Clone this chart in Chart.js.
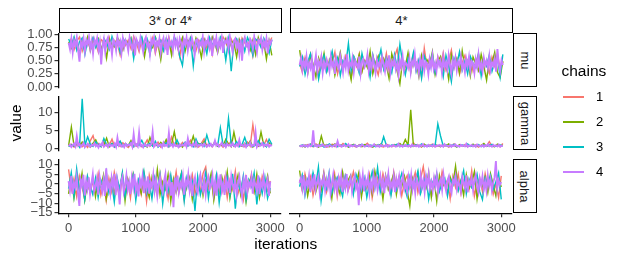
<!DOCTYPE html>
<html>
<head>
<meta charset="utf-8">
<script src="https://cdn.jsdelivr.net/npm/chart.js@4"></script>
<style>
  body { margin: 0; background: #fff; }
  #wrap { position: relative; width: 623px; height: 260px; overflow: hidden; background: #fff;
          font-family: "Liberation Sans", Arial, sans-serif; }
  canvas { position: absolute; }
  .strip { position: absolute; box-sizing: border-box; border: 1.3px solid #000; background: #fff;
           color: #1a1a1a; font-size: 13px; display: flex; align-items: center; justify-content: center; }
  .strip.side span { transform: rotate(90deg); white-space: nowrap; }
  .txt { position: absolute; white-space: nowrap; color: #000; }
</style>
</head>
<body>
<div id="wrap"></div>
<script>
const chains = ['1', '2', '3', '4'];
const chainColors = ['#F8766D', '#7CAE00', '#00BFC4', '#C77CFF'];
const columns = ['3* or 4*', '4*'];
const params = ['mu', 'gamma', 'alpha'];
const iterTicks = [0, 1000, 2000, 3000];
const muTicks = [0, 0.25, 0.5, 0.75, 1];
const gammaTicks = [0, 5, 10];
const alphaTicks = [-15, -10, -5, 0, 5, 10];

// traces, thinned: chains 1-3 every 40 iterations, chain 4 every 20 (0..3000)
// mu, "3* or 4*"
const muA1 = [0.80,0.92,0.71,0.87,0.95,0.68,0.84,0.89,0.74,0.93,0.81,0.66,0.90,0.85,0.77,0.94,0.70,0.88,0.82,0.61,
  0.92,0.79,0.89,0.73,0.96,0.84,0.67,0.91,0.80,0.87,0.75,0.93,0.64,0.86,0.90,0.78,0.83,0.95,0.71,0.88,
  0.82,0.57,0.91,0.85,0.76,0.94,0.80,0.69,0.89,0.84,0.92,0.74,0.87,0.62,0.90,0.83,0.78,0.95,0.86,0.72,
  0.91,0.80,0.88,0.67,0.93,0.84,0.77,0.90,0.59,0.86,0.92,0.81,0.75,0.89,0.83,0.94];
const muA2 = [0.86,0.74,0.93,0.81,0.63,0.90,0.78,0.95,0.69,0.87,0.83,0.92,0.72,0.88,0.55,0.91,0.80,0.76,0.94,0.85,
  0.70,0.89,0.82,0.93,0.66,0.86,0.79,0.92,0.58,0.88,0.84,0.75,0.95,0.81,0.52,0.90,0.73,0.87,0.60,0.92,
  0.83,0.77,0.94,0.68,0.89,0.85,0.71,0.93,0.80,0.56,0.91,0.86,0.74,0.95,0.82,0.65,0.88,0.79,0.92,0.70,
  0.87,0.84,0.57,0.90,0.76,0.93,0.81,0.69,0.89,0.62,0.94,0.78,0.86,0.53,0.88,0.60];
const muA3 = [0.91,0.79,0.95,0.70,0.86,0.93,0.62,0.88,0.82,0.94,0.75,0.89,0.57,0.92,0.84,0.71,0.96,0.80,0.87,0.66,
  0.93,0.85,0.78,0.91,0.54,0.88,0.82,0.95,0.73,0.90,0.61,0.86,0.94,0.79,0.88,0.69,0.92,0.83,0.76,0.95,
  0.86,0.58,0.41,0.89,0.81,0.93,0.40,0.87,0.74,0.91,0.84,0.63,0.94,0.80,0.88,0.72,0.95,0.85,0.51,0.90,
  0.30,0.86,0.92,0.77,0.89,0.68,0.94,0.83,0.60,0.91,0.87,0.75,0.93,0.82,0.64,0.90];
const muA4 = [0.84,0.72,0.91,0.66,0.88,0.79,0.94,0.70,0.48,0.86,0.77,0.92,0.68,0.89,0.81,0.95,0.73,0.87,0.64,0.90,
  0.82,0.93,0.71,0.85,0.43,0.78,0.91,0.67,0.88,0.94,0.75,0.83,0.62,0.90,0.86,0.70,0.95,0.79,0.87,0.65,
  0.92,0.76,0.89,0.83,0.69,0.94,0.81,0.72,0.88,0.60,0.91,0.85,0.74,0.93,0.80,0.67,0.89,0.95,0.77,0.84,
  0.63,0.90,0.82,0.94,0.71,0.87,0.79,0.92,0.66,0.85,0.93,0.74,0.88,0.61,0.91,0.80,0.86,0.69,0.95,0.78,
  0.89,0.73,0.92,0.84,0.64,0.90,0.81,0.94,0.70,0.87,0.76,0.93,0.83,0.62,0.89,0.91,0.72,0.85,0.79,0.95,
  0.68,0.88,0.82,0.92,0.74,0.86,0.59,0.90,0.80,0.94,0.71,0.87,0.77,0.93,0.65,0.89,0.84,0.91,0.73,0.96,
  0.81,0.67,0.88,0.92,0.75,0.85,0.63,0.90,0.50,0.86,0.94,0.78,0.83,0.69,0.91,0.87,0.72,0.95,0.80,0.66,
  0.89,0.84,0.93,0.71,0.87,0.76,0.92,0.64,0.88,0.82,0.90];
// mu, "4*"
const muB1 = [0.45,0.28,0.56,0.38,0.62,0.33,0.49,0.21,0.58,0.41,0.30,0.53,0.44,0.66,0.25,0.47,0.36,0.59,0.42,0.18,
  0.51,0.39,0.63,0.29,0.46,0.55,0.34,0.60,0.40,0.23,0.52,0.37,0.64,0.31,0.48,0.57,0.72,0.35,0.45,0.27,
  0.54,0.43,0.61,0.32,0.50,0.20,0.74,0.38,0.56,0.44,0.29,0.58,0.41,0.65,0.33,0.49,0.70,0.36,0.53,0.24,
  0.46,0.60,0.39,0.55,0.30,0.47,0.62,0.35,0.51,0.42,0.26,0.57,0.40,0.63,0.34,0.48];
const muB2 = [0.70,0.35,0.52,0.27,0.61,0.43,0.19,0.55,0.38,0.64,0.31,0.48,0.58,0.22,0.45,0.66,0.34,0.53,0.40,0.14,
  0.57,0.42,0.62,0.29,0.50,0.37,0.68,0.25,0.46,0.59,0.33,0.54,0.41,0.16,0.63,0.44,0.30,0.06,0.51,0.39,
  0.65,0.28,0.56,0.47,0.20,0.60,0.36,0.52,0.43,0.67,0.24,0.49,0.58,0.32,0.45,0.15,0.61,0.40,0.54,0.27,
  0.69,0.37,0.50,0.21,0.57,0.44,0.31,0.62,0.39,0.13,0.53,0.46,0.66,0.28,0.18,0.49];
const muB3 = [0.39,0.57,0.24,0.48,0.63,0.33,0.52,0.15,0.44,0.60,0.29,0.47,0.68,0.37,0.55,0.22,0.50,0.42,0.83,0.31,
  0.58,0.45,0.26,0.64,0.40,0.53,0.19,0.61,0.36,0.49,0.71,0.34,0.56,0.43,0.27,0.62,0.38,0.81,0.46,0.23,
  0.54,0.41,0.66,0.30,0.51,0.17,0.59,0.44,0.35,0.63,0.28,0.52,0.47,0.20,0.60,0.39,0.10,0.55,0.42,0.67,
  0.32,0.49,0.25,0.58,0.45,0.37,0.64,0.21,0.53,0.40,0.61,0.30,0.48,0.56,0.19,0.62];
const muB4 = [0.42,0.55,0.33,0.50,0.38,0.58,0.29,0.46,0.36,0.53,0.12,0.44,0.60,0.31,0.49,0.40,0.56,0.27,0.47,0.35,
  0.52,0.43,0.30,0.57,0.39,0.48,0.25,0.54,0.41,0.34,0.59,0.45,0.28,0.51,0.37,0.62,0.32,0.46,0.40,0.55,
  0.29,0.50,0.43,0.36,0.58,0.26,0.47,0.53,0.38,0.44,0.61,0.31,0.49,0.35,0.56,0.42,0.27,0.52,0.39,0.46,
  0.33,0.57,0.44,0.30,0.50,0.37,0.60,0.28,0.48,0.41,0.54,0.34,0.45,0.23,0.51,0.39,0.58,0.32,0.47,0.43,
  0.36,0.55,0.29,0.49,0.42,0.62,0.35,0.46,0.27,0.53,0.40,0.57,0.31,0.48,0.44,0.25,0.52,0.38,0.59,0.34,
  0.45,0.30,0.54,0.41,0.50,0.28,0.56,0.37,0.47,0.33,0.60,0.43,0.26,0.51,0.39,0.55,0.32,0.48,0.42,0.58,
  0.35,0.46,0.29,0.53,0.40,0.57,0.31,0.49,0.44,0.27,0.52,0.38,0.61,0.34,0.45,0.30,0.55,0.41,0.50,0.36,
  0.58,0.33,0.47,0.40,0.54,0.29,0.72,0.44,0.31,0.51,0.42];
// gamma, "3* or 4*"
const gamA1 = [0.6,1.2,0.4,0.9,1.7,0.5,1.1,0.3,2.2,3.6,0.8,1.4,0.5,1.9,0.7,1.0,2.6,0.4,1.3,0.6,
  1.6,0.9,0.3,1.2,2.1,0.7,1.5,0.5,1.0,2.4,0.6,1.3,0.8,1.8,0.4,1.1,2.0,0.7,3.2,0.9,
  1.4,0.5,1.7,0.8,1.2,2.3,0.6,1.0,0.4,1.5,2.7,0.8,1.3,0.5,1.9,0.7,1.1,0.4,1.6,0.9,
  2.2,0.6,1.4,0.8,1.0,0.5,1.8,0.7,6.7,1.2,0.6,1.5,0.9,2.5,0.7,1.1];
const gamA2 = [0.9,6.0,0.7,1.3,0.5,1.8,0.8,1.1,0.4,1.5,2.4,0.6,1.2,0.9,2.9,0.5,1.4,0.7,1.0,1.9,
  0.6,1.3,0.8,2.2,0.5,1.1,1.6,0.7,1.0,0.4,3.1,0.8,1.2,0.6,1.7,0.9,2.5,0.5,1.3,4.7,
  0.7,1.1,0.4,1.6,0.8,1.0,3.5,0.6,1.4,0.9,2.0,0.5,1.2,0.7,1.8,0.6,1.0,0.8,2.6,1.3,
  0.5,4.6,0.9,1.1,0.6,1.5,0.8,2.1,0.4,1.2,0.7,4.6,1.0,0.6,1.6,0.9];
const gamA3 = [0.5,1.0,0.7,1.6,0.4,13.9,0.8,3.3,1.2,0.6,1.9,0.9,0.5,2.8,1.1,0.7,1.4,0.4,1.0,2.1,
  0.6,1.3,0.8,1.7,0.5,1.2,0.9,2.3,0.6,1.0,1.5,0.7,2.0,0.4,1.1,0.8,1.6,0.5,1.3,0.9,
  2.4,0.6,1.0,1.8,0.7,1.2,0.5,2.7,0.9,1.4,0.6,3.8,1.1,0.7,1.5,0.8,5.8,1.0,0.6,8.4,
  1.3,0.7,1.9,0.5,1.1,3.1,0.8,1.4,0.6,1.0,2.2,0.9,1.6,0.5,2.6,1.2];
const gamA4 = [0.7,1.1,0.4,0.9,1.4,0.6,3.4,0.8,1.2,0.5,1.0,1.6,0.4,0.9,1.3,0.7,0.5,1.1,0.8,1.5,
  0.6,1.0,0.3,1.2,0.8,1.7,0.5,0.9,1.1,0.4,1.3,0.7,1.0,0.6,1.4,0.5,3.0,0.8,1.2,0.6,
  1.0,0.4,1.3,0.7,1.1,0.9,1.5,0.5,4.0,0.8,1.2,0.6,4.4,0.7,1.0,0.4,1.3,0.9,0.6,1.1,
  0.8,1.2,4.6,0.5,1.0,1.4,0.6,0.9,1.2,0.4,1.6,0.7,1.0,0.6,4.3,0.8,1.1,0.5,1.3,0.7,
  0.9,0.4,1.2,0.7,1.0,0.8,1.5,0.5,2.8,0.9,1.1,0.6,1.3,0.7,1.8,0.5,1.0,0.8,1.2,0.6,
  1.4,0.9,0.5,1.1,0.7,1.3,0.6,1.0,2.2,0.8,1.2,0.5,0.9,1.6,0.7,1.1,0.4,1.3,0.8,1.0,
  0.6,1.5,0.9,0.5,1.2,0.7,2.4,0.8,1.0,0.6,1.3,0.4,1.1,0.9,1.7,0.6,1.0,0.8,4.4,0.5,
  1.2,0.7,0.9,1.5,0.6,1.1,0.8,1.3,0.5,1.0,0.7];
// gamma, "4*"
const gamB1 = [0.6,0.9,0.4,1.1,0.7,0.5,1.3,0.8,0.6,1.0,0.4,0.7,1.2,0.5,0.9,0.6,1.4,0.8,0.5,1.0,
  0.7,0.4,1.1,0.6,0.9,1.5,0.5,0.8,0.7,1.0,0.6,0.4,1.2,0.8,0.5,0.9,0.7,1.3,0.6,0.8,
  1.0,0.5,1.6,0.7,0.9,0.4,1.1,0.6,0.8,1.2,0.5,0.7,0.9,0.6,1.0,0.4,0.8,1.3,0.6,0.9,
  0.7,1.1,0.5,0.8,0.6,1.0,0.4,0.9,1.2,0.7,1.9,0.6,0.8,1.0,0.5,1.4];
const gamB2 = [0.8,0.5,1.0,0.7,1.2,0.6,0.9,0.4,3.5,0.7,1.1,0.5,0.8,1.3,0.6,0.9,0.7,1.0,0.4,0.8,
  1.2,0.6,0.9,0.5,1.1,0.7,0.8,0.4,1.0,0.6,1.3,0.7,0.9,0.5,0.8,1.1,0.6,1.4,0.7,2.5,
  0.9,10.8,0.6,1.0,0.8,0.5,1.2,0.7,0.9,0.6,1.1,0.8,0.5,1.0,0.7,1.3,0.6,0.9,0.4,1.1,
  0.8,0.6,1.0,0.7,1.2,0.5,0.9,0.8,1.4,0.6,1.0,0.7,0.5,1.2,0.8,0.9];
const gamB3 = [0.7,1.0,0.5,0.8,1.2,0.6,0.9,0.7,1.1,0.4,0.8,1.3,0.6,0.9,0.5,1.0,0.7,1.4,0.6,0.8,
  1.0,0.5,0.9,1.2,0.7,0.6,1.0,0.8,0.5,1.1,0.7,3.3,0.9,0.6,1.0,0.8,1.2,0.5,0.9,0.7,
  1.1,0.6,0.8,1.0,0.7,1.3,0.5,0.9,0.6,1.1,0.8,6.9,3.5,0.7,1.0,0.6,0.9,1.2,0.5,0.8,
  1.0,0.7,1.3,0.6,0.9,0.8,1.1,0.5,1.0,0.7,0.9,1.2,0.6,0.8,1.0,0.7];
const gamB4 = [0.5,0.8,0.6,1.0,0.7,0.9,0.5,1.1,0.6,0.8,5.1,0.7,0.9,0.5,1.0,0.6,0.8,1.2,0.7,0.5,
  0.9,0.6,1.0,0.7,0.5,0.8,1.1,0.6,2.0,0.7,0.9,0.5,0.8,1.0,0.6,0.7,1.2,0.5,0.9,0.6,
  0.8,1.0,0.5,0.7,0.9,0.6,1.1,0.8,0.5,0.7,1.0,0.6,0.9,0.5,0.8,1.2,0.7,0.6,0.9,0.5,
  1.0,0.7,0.8,0.6,1.1,0.5,0.9,0.7,0.6,1.0,0.8,0.5,0.7,1.3,0.6,0.9,0.5,0.8,1.0,0.7,
  0.6,0.9,0.5,1.1,0.7,0.8,0.6,1.0,0.5,0.9,0.7,1.2,0.6,0.8,0.5,1.0,0.7,0.9,0.6,1.1,
  0.5,0.8,0.7,1.0,0.6,0.9,0.5,1.2,0.7,0.8,0.6,1.0,0.5,0.9,0.7,1.1,0.6,0.8,0.5,1.0,
  0.7,0.9,0.6,1.3,0.5,0.8,0.7,1.0,0.6,0.9,0.5,1.1,0.7,0.8,0.6,1.0,0.5,0.9,0.7,1.2,
  0.6,0.8,0.5,1.0,0.7,0.9,0.6,1.1,0.5,0.8,0.7];
// alpha, "3* or 4*"
const alpA1 = [7.6,-3.2,2.8,-6.4,4.1,-1.5,-7.9,3.5,-4.6,1.2,-2.7,5.3,-5.8,0.4,-8.6,2.9,-3.9,6.1,-1.1,-6.7,
  3.8,-4.2,1.7,-7.3,5.0,-2.3,0.8,-5.5,3.2,-9.1,4.6,-1.8,2.2,-6.0,5.7,-3.4,0.9,-7.6,3.9,-2.0,
  6.3,-4.8,1.5,-8.2,2.6,-1.3,4.8,-5.2,0.6,-3.7,5.5,8.8,-2.5,2.0,-6.9,4.3,-0.7,-4.4,3.0,-7.1,
  1.9,-2.9,6.6,-5.0,0.3,-8.0,3.6,-1.9,5.2,-4.1,2.4,-6.3,4.0,-0.9,-3.5,1.6];
const alpA2 = [-5.1,3.9,-7.4,1.4,-2.6,5.6,-8.3,0.7,-4.0,3.1,-6.5,2.3,-1.2,4.7,-7.7,-0.5,3.6,-5.3,1.9,-3.1,
  5.2,-8.8,2.7,-2.2,4.4,-6.1,0.2,-4.7,6.0,-1.6,-7.0,3.3,-3.6,7.6,-5.7,1.1,-2.8,4.9,-9.0,2.5,
  -4.3,0.6,5.8,-6.6,-1.0,3.4,-7.9,1.8,-3.3,4.5,-5.9,2.1,-0.8,5.4,-8.4,0.9,-4.5,3.7,-2.4,6.4,
  -7.2,1.3,-1.7,4.6,-5.5,2.9,-9.3,0.5,3.8,-3.8,5.1,-6.8,1.0,-2.1,4.2,-4.9];
const alpA3 = [-2.4,5.8,-6.2,7.8,-3.6,1.6,-8.1,4.2,-0.9,-5.4,3.0,-7.0,2.1,-1.9,6.2,-4.6,0.5,-9.4,3.7,-2.8,
  5.9,-6.4,1.2,-3.3,4.5,-8.5,2.4,-1.0,6.5,-5.1,0.8,-7.6,3.5,-2.2,5.0,-10.2,1.7,-4.0,4.6,-6.8,
  2.6,-0.3,5.6,-8.9,3.1,-3.1,1.4,-14.0,4.0,-5.6,0.1,6.1,-7.3,2.8,-2.5,4.8,-9.8,1.5,-4.2,3.3,
  -6.0,5.3,-12.8,0.4,-3.8,4.4,-8.0,2.2,-1.4,5.7,-10.6,1.9,-5.0,3.6,-7.4,-2.0];
const alpA4 = [1.5,-3.2,4.2,-5.1,0.6,-1.9,3.7,-4.4,-11.4,2.1,-0.8,4.8,-6.0,1.3,-2.6,3.5,-4.9,0.2,5.0,-3.6,
  -1.1,2.8,-5.5,4.0,-0.4,-3.8,1.9,-6.2,8.1,-2.2,0.7,-4.6,3.1,-1.5,5.2,-5.8,2.4,-3.0,-10.6,0.9,
  3.6,-4.1,-0.6,4.5,-2.8,1.1,-5.3,3.0,-1.7,5.3,-3.5,0.4,-6.4,2.6,-0.9,4.1,-4.7,1.7,-2.4,3.9,
  -5.0,0.8,-1.3,4.6,-3.3,2.2,-5.9,0.0,3.4,-2.0,-4.5,1.6,5.1,-3.9,-0.2,2.9,-6.1,1.0,-12.0,3.2,
  -2.5,4.4,-4.0,0.5,-1.6,3.8,-5.6,1.8,-0.7,4.9,-3.1,2.0,-6.3,0.3,3.3,-2.9,-4.8,1.4,4.7,-1.0,
  -3.7,2.5,-5.2,0.9,3.6,-2.3,-0.5,4.3,-4.3,1.2,-6.0,2.7,-1.4,5.0,-3.4,0.1,-5.7,3.0,-2.1,1.5,
  -4.6,4.0,-0.3,-3.0,2.3,-5.4,0.6,3.9,-1.8,-6.6,1.9,-2.7,4.6,-4.2,0.8,-1.2,3.4,-5.0,2.2,-0.6,
  -3.6,4.5,-5.3,1.1,-1.5,3.7,-4.1,0.4,2.8,-6.2,1.3];
// alpha, "4*"
const alpB1 = [2.1,-3.4,5.2,-1.6,3.7,-5.9,0.8,4.5,-2.8,6.0,-4.1,1.3,-0.5,5.6,-6.5,2.9,-2.0,4.1,-3.7,0.2,
  6.3,-1.1,3.0,-5.0,1.7,-2.5,4.8,-7.2,0.9,3.4,-3.0,5.4,-0.8,2.3,-4.7,6.1,-1.9,3.8,-6.0,1.1,
  4.4,-2.3,0.5,5.9,-4.4,2.6,9.0,-1.4,3.3,-5.6,0.7,4.7,-3.2,6.5,-0.2,2.0,-7.6,3.9,-1.7,5.1,
  -4.9,1.6,4.0,-2.6,6.8,-6.3,0.4,3.1,-3.9,5.5,-1.2,2.7,-5.3,0.1,-7.0,4.2];
const alpB2 = [7.0,-2.5,3.3,-6.1,1.4,4.9,-4.3,0.6,-3.5,5.5,-1.0,2.4,-7.4,3.9,-0.3,-5.2,6.2,-2.1,1.9,4.6,
  -3.9,0.3,5.8,-6.7,2.2,-1.5,3.6,-4.8,6.6,-0.7,1.5,-8.0,4.3,-2.9,0.9,5.2,-5.5,2.8,-1.3,4.0,
  -3.3,-11.4,3.1,-0.6,5.7,-4.0,1.2,-2.2,6.0,-6.9,2.5,-9.0,4.4,-1.8,0.8,-4.6,3.7,-0.1,9.3,-3.0,
  1.8,-5.8,4.8,-2.4,0.4,6.4,-7.7,2.1,-1.1,3.4,-4.5,5.3,-0.4,-6.2,2.9,-1.6];
const alpB3 = [-1.4,4.6,-6.0,2.2,-3.0,5.9,-0.8,8.8,-8.8,1.6,-2.4,6.1,-4.6,0.5,3.5,-1.7,-6.4,4.2,-0.1,2.7,
  -5.4,5.0,1.0,-3.6,3.1,-7.0,0.2,6.4,-2.1,8.5,-4.2,1.8,-0.9,4.9,-5.8,2.4,-3.3,0.7,5.6,-1.5,
  -6.6,3.6,-2.7,1.3,6.7,-4.9,0.0,4.1,-7.8,2.0,-1.0,5.5,-3.8,0.6,3.0,-6.2,2.3,-0.5,4.7,-3.4,
  1.5,6.9,-5.1,2.6,-1.9,0.3,5.1,-4.0,-8.1,3.2,-0.6,4.4,-2.8,1.2,5.8,-8.0];
const alpB4 = [0.6,3.2,-2.1,4.6,-3.4,1.8,-0.7,4.1,-4.0,2.5,-1.3,5.0,-2.8,0.9,3.7,-4.3,1.5,-0.2,4.4,-3.1,
  2.2,-1.6,3.9,-4.6,0.4,4.8,-2.5,1.2,-3.7,3.0,-0.5,4.3,-4.1,2.0,-1.9,5.2,-2.9,0.7,3.5,-3.6,
  1.6,4.0,-2.2,0.1,-11.0,3.3,-1.0,4.7,-3.9,2.4,-0.8,3.8,-4.4,1.1,-2.6,4.5,-1.4,2.8,-3.3,0.5,
  4.2,-2.0,1.9,-4.7,3.1,-0.4,5.1,-3.0,0.8,-1.8,4.0,-4.2,2.6,-0.9,3.6,-3.5,1.3,4.9,-2.4,0.2,
  -3.8,3.4,-1.1,4.6,-2.7,1.7,-4.5,2.9,0.0,-3.2,4.4,-1.5,2.1,-4.0,3.7,-0.6,5.0,-2.3,1.0,-3.4,
  3.0,-1.2,4.3,-4.2,0.9,2.7,-2.9,4.8,-0.3,-3.6,1.8,3.9,-1.9,-4.6,2.3,0.4,4.1,-2.6,1.4,-0.8,
  -3.9,3.6,0.6,-2.2,4.5,-4.3,1.6,-0.1,3.2,-3.0,2.0,4.7,-1.7,-4.4,2.8,-0.6,3.9,-2.8,1.2,-3.5,
  4.2,-1.0,2.5,-3.2,0.7,3.4,11.9,-2.4,1.9,-0.4,1.0];

const traces = {
  mu:    [[muA1, muA2, muA3, muA4], [muB1, muB2, muB3, muB4]],
  gamma: [[gamA1, gamA2, gamA3, gamA4], [gamB1, gamB2, gamB3, gamB4]],
  alpha: [[alpA1, alpA2, alpA3, alpA4], [alpB1, alpB2, alpB3, alpB4]]
};

const rowScales = {
  mu:    { min: -0.005, max: 1.02, ticks: muTicks, fmt: v => v.toFixed(2) },
  gamma: { min: -0.5, max: 14.6, ticks: gammaTicks, fmt: v => String(v) },
  alpha: { min: -15.2, max: 12.8, ticks: alphaTicks, fmt: v => String(v).replace('-', '\u2212') }
};

// panel geometry (page pixels)
const colBox = [{ L: 58.5, R: 282 }, { L: 289.5, R: 513 }];
const rowTop = [33.3, 96.3, 159.3];
const panelH = 54;
const FONT = '"Liberation Sans", Arial, sans-serif';

const wrap = document.getElementById('wrap');

function addDiv(cls, css, html) {
  const d = document.createElement('div');
  d.className = cls;
  Object.assign(d.style, css);
  d.innerHTML = html;
  wrap.appendChild(d);
  return d;
}

// strips
columns.forEach((name, c) => {
  addDiv('strip', { left: (colBox[c].L + 0.5) + 'px', top: '8.3px',
    width: (colBox[c].R - colBox[c].L - 0.5) + 'px', height: '24.5px' }, name);
});
params.forEach((p, r) => {
  addDiv('strip side', { left: '513.3px', top: rowTop[r] + 'px', width: '24px', height: panelH + 'px' },
    '<span>' + p + '</span>');
});

function makePanel(r, c) {
  const p = params[r];
  const sc = rowScales[p];
  const showY = c === 0;
  const showX = r === params.length - 1;
  const box = colBox[c];
  const cLeft = c === 0 ? 0 : Math.floor(box.L) - 3;
  const cTop = Math.floor(rowTop[r]) - 12;
  const padT = rowTop[r] - cTop;
  const padR = 6, padB = 12;
  const axisW = showY ? box.L : 0;
  const axisH = showX ? 30 : 0;
  const w = Math.ceil(box.R + padR - cLeft);
  const h = Math.ceil(padT + panelH + axisH + padB);

  const cv = document.createElement('canvas');
  cv.width = w; cv.height = h;
  cv.style.left = cLeft + 'px'; cv.style.top = cTop + 'px';
  wrap.appendChild(cv);

  const axisCommon = {
    grid: { drawOnChartArea: false, drawTicks: true, tickLength: 4, color: '#333333', lineWidth: 1.2 },
    border: { display: true, color: '#000', width: 1.3 },
  };

  new Chart(cv, {
    type: 'line',
    data: {
      datasets: chains.map((ch, k) => ({
        label: ch,
        data: traces[p][c][k].map((v, i, a) => ({ x: i * 3000 / (a.length - 1), y: v })),
        borderColor: chainColors[k],
        borderWidth: k === chains.length - 1 ? 1.9 : 1.4,
        pointRadius: 0,
        tension: 0,
        order: chains.length - k
      }))
    },
    options: {
      responsive: false,
      animation: false,
      devicePixelRatio: 1,
      events: [],
      layout: { padding: {
        left: showY ? 0 : box.L - cLeft,
        right: w - (box.R - cLeft),
        top: padT,
        bottom: h - padT - panelH - axisH } },
      plugins: { legend: { display: false }, tooltip: { enabled: false } },
      scales: {
        x: {
          type: 'linear', min: -150, max: 3150, display: showX,
          afterBuildTicks: ax => { ax.ticks = iterTicks.map(v => ({ value: v })); },
          afterFit: ax => { ax.height = axisH; },
          ...axisCommon,
          ticks: { autoSkip: false, maxRotation: 0, padding: 3, color: '#4d4d4d',
                   font: { family: FONT, size: 13 }, callback: v => String(v) }
        },
        y: {
          type: 'linear', min: sc.min, max: sc.max, display: showY,
          afterBuildTicks: ax => { ax.ticks = sc.ticks.map(v => ({ value: v })); },
          afterFit: ax => { ax.width = axisW; },
          ...axisCommon,
          ticks: { autoSkip: false, padding: 2, color: '#4d4d4d',
                   font: { family: FONT, size: 13 }, callback: v => sc.fmt(v) }
        }
      }
    }
  });
}

for (let r = 0; r < params.length; r++) {
  for (let c = 0; c < columns.length; c++) makePanel(r, c);
}

// axis titles
addDiv('txt', { left: '-14px', top: '113.3px', width: '60px', height: '20px', lineHeight: '20px',
  textAlign: 'center', fontSize: '15.5px', transform: 'rotate(-90deg)' }, 'value');
addDiv('txt', { left: '235.7px', top: '233.5px', width: '100px', height: '20px', lineHeight: '20px',
  textAlign: 'center', fontSize: '15.5px' }, 'iterations');

// legend
addDiv('txt', { left: '561.5px', top: '60.5px', height: '20px', lineHeight: '20px', fontSize: '15.5px' }, 'chains');
chains.forEach((ch, k) => {
  const cy = Math.round(97.3 + 25 * k);
  addDiv('txt', { left: '563px', top: (cy - 1) + 'px', width: '21px', height: '2px',
    background: chainColors[k] }, '');
  addDiv('txt', { left: '596px', top: (cy - 10) + 'px', height: '20px', lineHeight: '20px', fontSize: '13px' }, ch);
});
</script>
</body>
</html>
